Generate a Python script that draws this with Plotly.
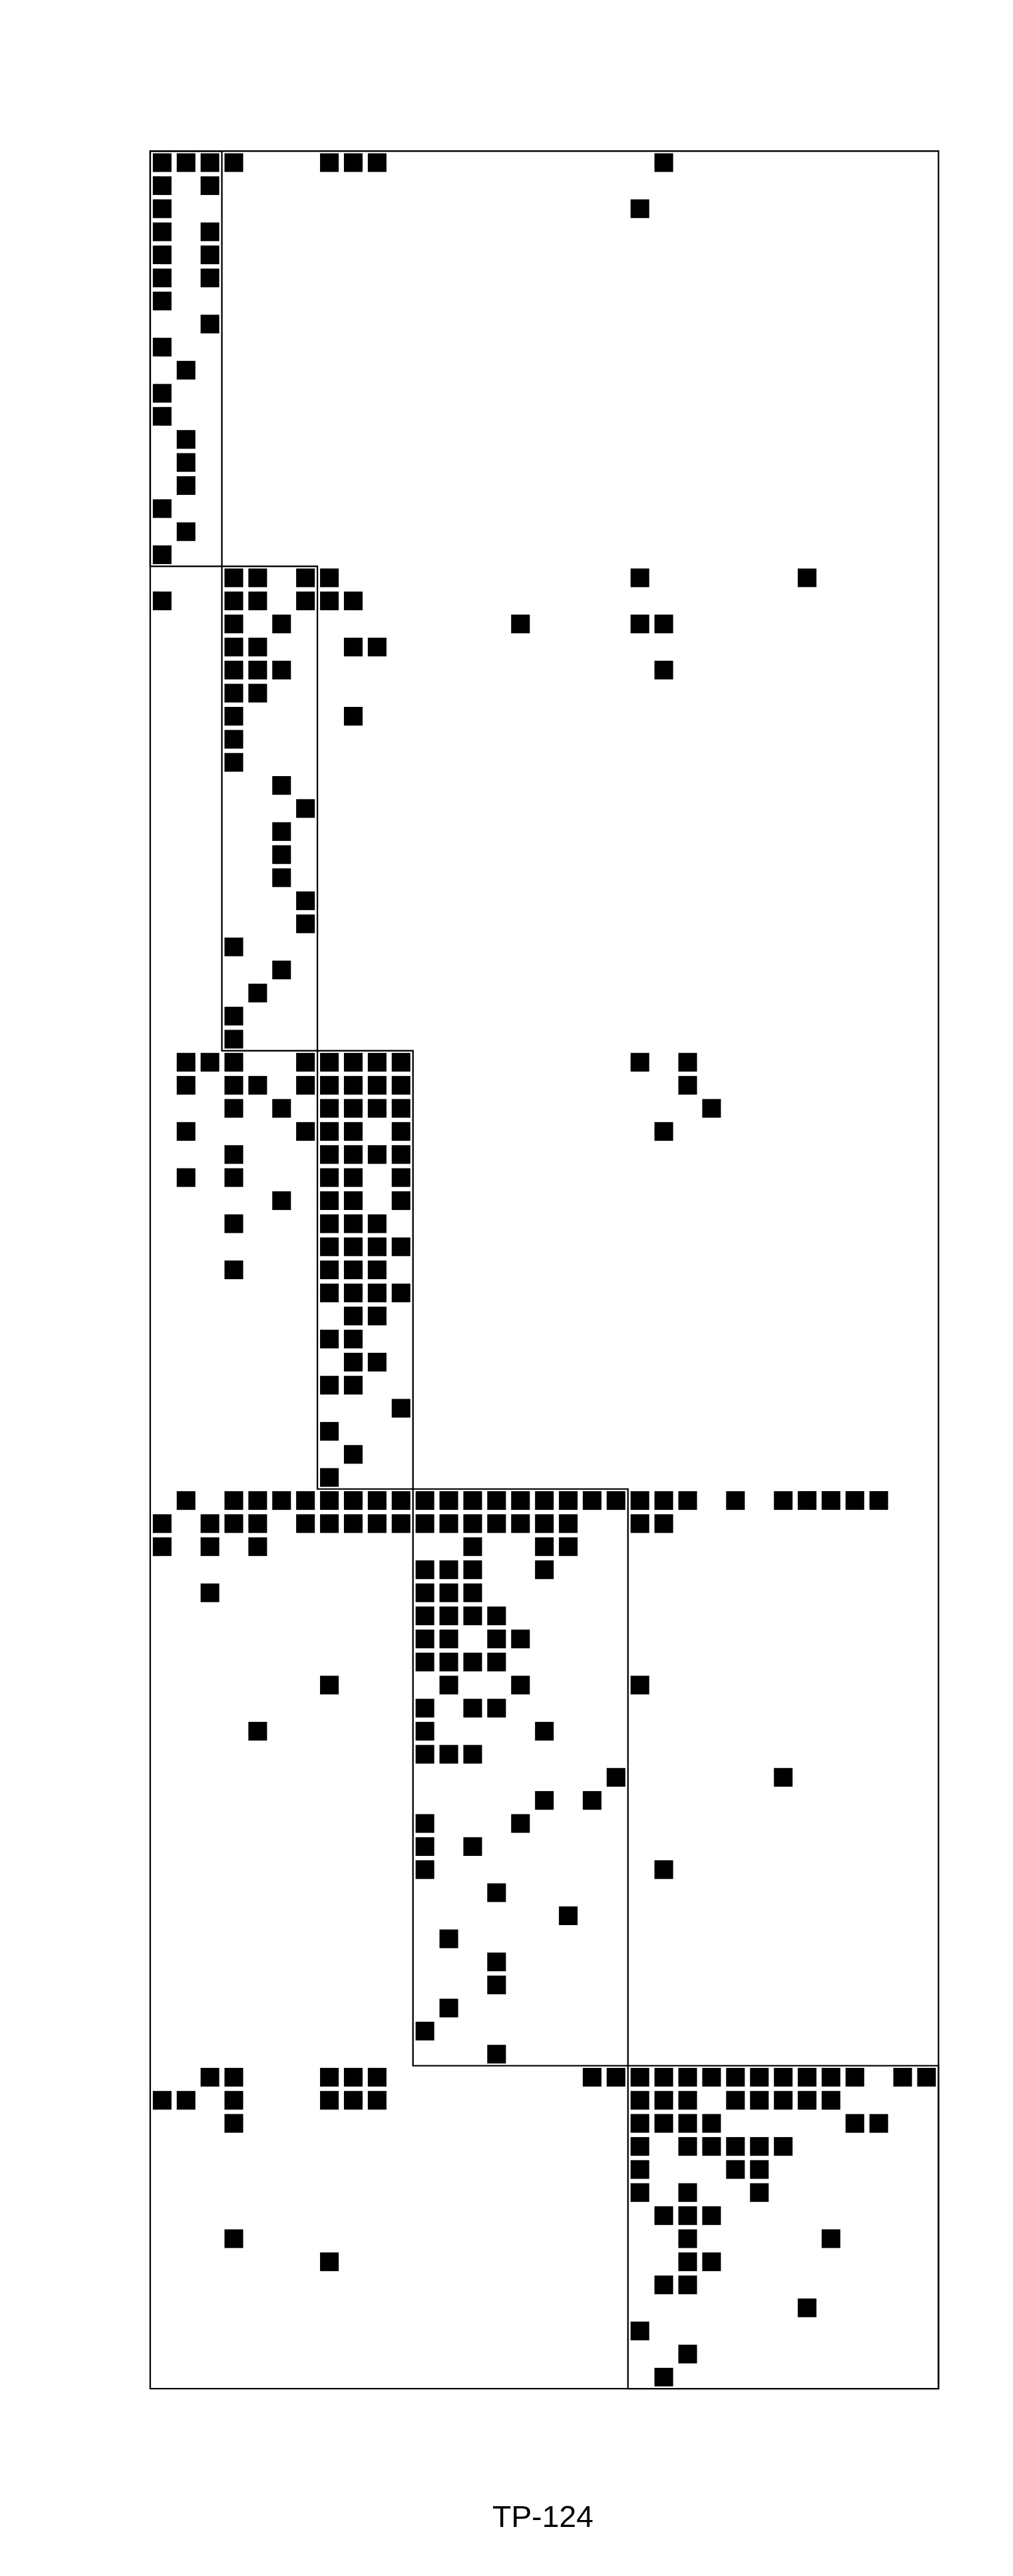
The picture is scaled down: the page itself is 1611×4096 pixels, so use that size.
import plotly.graph_objects as go

# ---------------- data: nonzero column indices per row, grouped by row block ----------------
block1_rows = [
    [0, 1, 2, 3, 7, 8, 9, 21],
    [0, 2],
    [0, 20],
    [0, 2],
    [0, 2],
    [0, 2],
    [0],
    [2],
    [0],
    [1],
    [0],
    [0],
    [1],
    [1],
    [1],
    [0],
    [1],
    [0],
]
block2_rows = [
    [3, 4, 6, 7, 20, 27],
    [0, 3, 4, 6, 7, 8],
    [3, 5, 15, 20, 21],
    [3, 4, 8, 9],
    [3, 4, 5, 21],
    [3, 4],
    [3, 8],
    [3],
    [3],
    [5],
    [6],
    [5],
    [5],
    [5],
    [6],
    [6],
    [3],
    [5],
    [4],
    [3],
    [3],
]
block3_rows = [
    [1, 2, 3, 6, 7, 8, 9, 10, 20, 22],
    [1, 3, 4, 6, 7, 8, 9, 10, 22],
    [3, 5, 7, 8, 9, 10, 23],
    [1, 6, 7, 8, 10, 21],
    [3, 7, 8, 9, 10],
    [1, 3, 7, 8, 10],
    [5, 7, 8, 10],
    [3, 7, 8, 9],
    [7, 8, 9, 10],
    [3, 7, 8, 9],
    [7, 8, 9, 10],
    [8, 9],
    [7, 8],
    [8, 9],
    [7, 8],
    [10],
    [7],
    [8],
    [7],
]
block4_rows = [
    [1, 3, 4, 5, 6, 7, 8, 9, 10, 11, 12, 13, 14, 15, 16, 17, 18, 19, 20, 21, 22, 24, 26, 27, 28, 29, 30],
    [0, 2, 3, 4, 6, 7, 8, 9, 10, 11, 12, 13, 14, 15, 16, 17, 20, 21],
    [0, 2, 4, 13, 16, 17],
    [11, 12, 13, 16],
    [2, 11, 12, 13],
    [11, 12, 13, 14],
    [11, 12, 14, 15],
    [11, 12, 13, 14],
    [7, 12, 15, 20],
    [11, 13, 14],
    [4, 11, 16],
    [11, 12, 13],
    [19, 26],
    [16, 18],
    [11, 15],
    [11, 13],
    [11, 21],
    [14],
    [17],
    [12],
    [14],
    [14],
    [12],
    [11],
    [14],
]
block5_rows = [
    [2, 3, 7, 8, 9, 18, 19, 20, 21, 22, 23, 24, 25, 26, 27, 28, 29, 31, 32],
    [0, 1, 3, 7, 8, 9, 20, 21, 22, 24, 25, 26, 27, 28],
    [3, 20, 21, 22, 23, 29, 30],
    [20, 22, 23, 24, 25, 26],
    [20, 24, 25],
    [20, 22, 25],
    [21, 22, 23],
    [3, 22, 28],
    [7, 22, 23],
    [21, 22],
    [27],
    [20],
    [22],
    [21],
]

# block boundaries (start index of each block, plus total)
row_breaks = [0, 18, 39, 58, 83, 97]
col_breaks = [0, 3, 7, 11, 20, 33]
title_text = "TP-124"

# ---------------- build point lists ----------------
pattern = block1_rows + block2_rows + block3_rows + block4_rows + block5_rows
xs, ys = [], []
for r, cols in enumerate(pattern):
    for c in cols:
        xs.append(c)
        ys.append(r)

n_rows = row_breaks[-1]
n_cols = col_breaks[-1]

# ---------------- geometry (output pixels) ----------------
W, H = 1611, 4096
left, right = 238.9, 1492.5
top, bottom = 240.2, 3798.1
pad = 0.1  # in data units, so border lines are not clipped
cw = (right - left) / n_cols
ch = (bottom - top) / n_rows
x_dom = [(left - pad * cw) / W, (right + pad * cw) / W]
y_dom = [1 - (bottom + pad * ch) / H, 1 - (top - pad * ch) / H]

fig = go.Figure()
fig.add_trace(go.Scatter(
    x=xs, y=ys, mode="markers",
    marker=dict(symbol="square", size=29.7, color="black", line=dict(width=0)),
    hoverinfo="skip", showlegend=False,
))

shapes = []
# outer frame
shapes.append(dict(type="rect", xref="x", yref="y",
                   x0=-0.5, x1=n_cols - 0.5, y0=-0.5, y1=n_rows - 0.5,
                   line=dict(color="black", width=2.4), fillcolor="rgba(0,0,0,0)"))
# diagonal blocks
for i in range(len(row_breaks) - 1):
    shapes.append(dict(type="rect", xref="x", yref="y",
                       x0=col_breaks[i] - 0.5, x1=col_breaks[i + 1] - 0.5,
                       y0=row_breaks[i] - 0.5, y1=row_breaks[i + 1] - 0.5,
                       line=dict(color="black", width=2.4), fillcolor="rgba(0,0,0,0)"))

fig.update_layout(
    width=W, height=H, autosize=False,
    margin=dict(l=0, r=0, t=0, b=0, pad=0),
    paper_bgcolor="white", plot_bgcolor="white",
    shapes=shapes,
    xaxis=dict(domain=x_dom, range=[-0.5 - pad, n_cols - 0.5 + pad],
               showgrid=False, zeroline=False, showticklabels=False,
               ticks="", showline=False, fixedrange=True),
    yaxis=dict(domain=y_dom, range=[n_rows - 0.5 + pad, -0.5 - pad],
               showgrid=False, zeroline=False, showticklabels=False,
               ticks="", showline=False, fixedrange=True),
    annotations=[dict(text=title_text, xref="paper", yref="paper",
                      x=(left + right) / 2 / W - 2 / W, y=1 - 4001 / H,
                      xanchor="center", yanchor="middle", showarrow=False,
                      font=dict(family="Arial, Liberation Sans, sans-serif",
                                size=49, color="black"))],
)

fig.write_html("out.html", config={"displayModeBar": False})
